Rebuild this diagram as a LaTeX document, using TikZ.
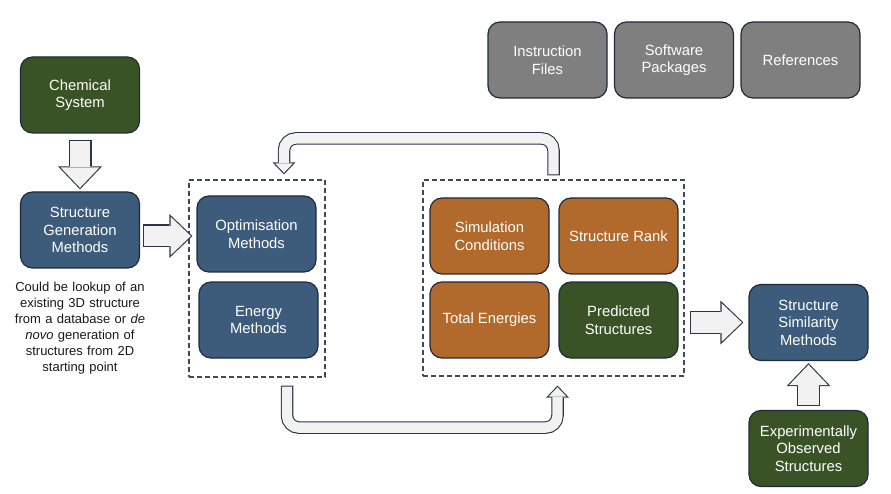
\documentclass[tikz,border=0pt]{standalone}
\usepackage{fontspec}
\setmainfont{Liberation Sans}
\usetikzlibrary{arrows.meta, positioning}

\definecolor{boxBlue}{HTML}{3D5B7B}
\definecolor{boxGreen}{HTML}{3A5326}
\definecolor{boxOrange}{HTML}{B2692C}
\definecolor{boxGrey}{HTML}{7F7F7F}
\definecolor{edgeDark}{HTML}{1F2B3A}
\definecolor{arrowFill}{HTML}{F2F2F2}
\definecolor{arrowEdge}{HTML}{2A3545}

\begin{document}
\begin{tikzpicture}[
    x=1pt, y=-1pt,
    block/.style={rectangle, draw=edgeDark, line width=1.2pt, rounded corners=12pt,
                  minimum width=119pt, minimum height=76pt, align=center, text=white,
                  font=\fontsize{14.8}{17.5}\selectfont},
    group/.style={rectangle, draw=arrowEdge!90, line width=1.2pt, dash pattern=on 5pt off 3pt,
                  inner sep=0pt},
    note/.style={text width=135pt, align=center, inner sep=0pt, text=black!90,
                 font=\fontsize{13}{16}\selectfont},
    fatarrow/.style 2 args={preaction={draw=arrowEdge, line width=23pt, shorten <=#1, shorten >=#2,
                  -{Triangle[length=23pt, width=44pt, line width=0pt]}},
                  draw=arrowFill, line width=20.8pt, shorten <=#1+1.1pt, shorten >=#2+1.6pt,
                  -{Triangle[length=20.3pt, width=38.8pt, line width=0pt]}},
    bendarrow/.style 2 args={rounded corners=12pt,
                  preaction={draw=arrowEdge, line width=12.5pt, shorten <=#1, shorten >=#2,
                  -{Triangle[length=12pt, width=23pt, line width=0pt]}},
                  draw=arrowFill, line width=10.3pt, shorten <=#1+1.1pt, shorten >=#2+1.6pt,
                  -{Triangle[length=9.3pt, width=17.8pt, line width=0pt]}}
  ]
    \useasboundingbox (0,0) rectangle (891,494);

    % inputs
    \node[block, fill=boxGreen] (chem) at (80,95) {Chemical\\System};
    \node[block, fill=boxBlue] (sgm) at (80,230) {Structure\\Generation\\Methods};
    \node[note, below=13pt of sgm] (note) {Could be lookup of an\\existing 3D structure\\from a database or \textit{de}\\\textit{novo} generation of\\structures from 2D\\starting point};

    % resources
    \node[block, fill=boxGrey] (instr) at (547.5,60) {Instruction\\Files};
    \node[block, fill=boxGrey] (soft) at (674,60) {Software\\Packages};
    \node[block, fill=boxGrey] (refs) at (800.5,60) {References};

    % calculation loop
    \node[group, minimum width=136pt, minimum height=197pt] (grpL) at (257,278.5) {};
    \node[block, fill=boxBlue] (opt) at (256.5,234) {Optimisation\\Methods};
    \node[block, fill=boxBlue] (ene) at (258.5,320) {Energy\\Methods};

    \node[group, minimum width=261pt, minimum height=196pt] (grpR) at (553.5,278) {};
    \node[block, fill=boxOrange] (sim) at (489.5,236) {Simulation\\Conditions};
    \node[block, fill=boxOrange] (rank) at (618.5,236) {Structure Rank};
    \node[block, fill=boxOrange] (tot) at (489.5,320) {Total Energies};
    \node[block, fill=boxGreen] (pred) at (618.5,320) {Predicted\\Structures};

    % comparison
    \node[block, fill=boxBlue] (ssm) at (808.5,322.5) {Structure\\Similarity\\Methods};
    \node[block, fill=boxGreen] (exp) at (808.5,448.5) {Experimentally\\Observed\\Structures};

    \draw[fatarrow={6pt}{2pt}] (chem) -- (sgm);
    \draw[fatarrow={3pt}{-4pt}] ([yshift=-6pt]sgm.east) -- ([yshift=-6pt]sgm.east -| grpL.west);
    \draw[fatarrow={5pt}{5pt}] (grpR.east |- ssm.west) -- (ssm.west);
    \draw[fatarrow={4pt}{2pt}] (exp) -- (ssm);
    \draw[bendarrow={4pt}{5pt}] (grpR.north) -- ++(0,-41) -| ([xshift=27pt]grpL.north);
    \draw[bendarrow={8pt}{9pt}] ([xshift=30pt]grpL.south) -- ++(0,50) -| ([xshift=4pt]grpR.south);
  \end{tikzpicture}
\end{document}
